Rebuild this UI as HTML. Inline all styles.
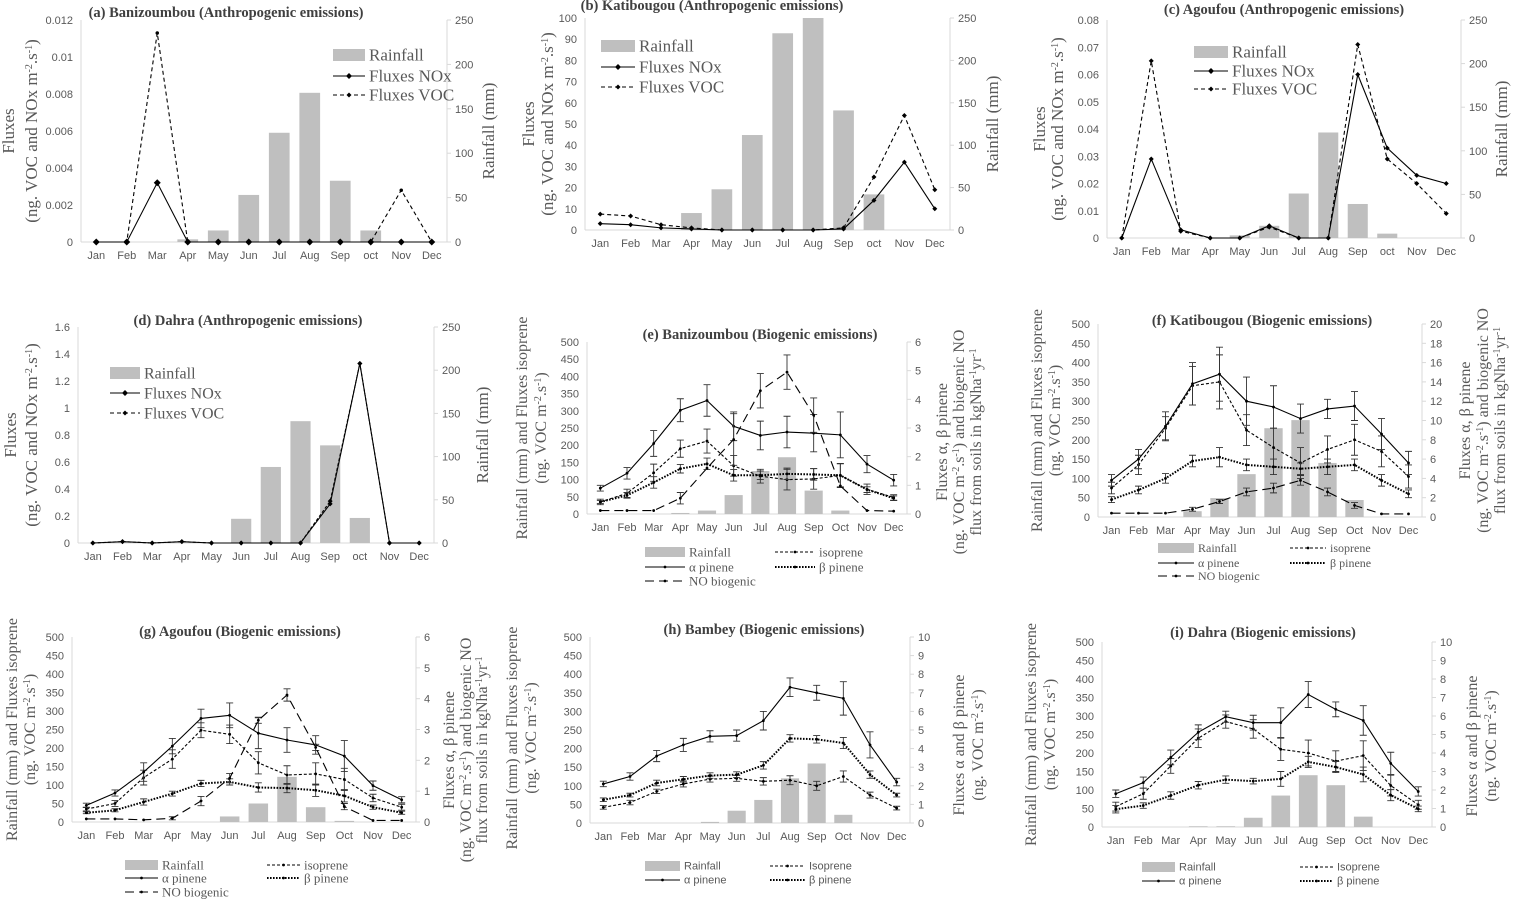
<!DOCTYPE html>
<html><head><meta charset="utf-8"><style>
html,body{margin:0;padding:0;background:#fff}
svg{display:block}
</style></head><body>
<svg id="fig" width="1514" height="899" viewBox="0 0 1514 899" xmlns="http://www.w3.org/2000/svg"></svg>
<script>
const months = ["Jan","Feb","Mar","Apr","May","Jun","Jul","Aug","Sep","oct","Nov","Dec"];
const monthsB = ["Jan","Feb","Mar","Apr","May","Jun","Jul","Aug","Sep","Oct","Nov","Dec"];
// (a) Banizoumbou anthropogenic
const rainA = [0,0,0,3,13,53,123,168,69,13,0,0];
const noxA = [0,0,0.0032,0,0,0,0,0,0,0,0,0];
const vocA = [0,0,0.0113,0,0,0,0,0,0,0,0.0028,0];
// (b) Katibougou anthropogenic
const rainB = [0,0,0,20,48,112,232,250,141,42,0,0];
const noxB = [3,2.5,1,0.5,0,0,0,0,0.5,14,32,10];
const vocB = [7.5,6.6,2.5,1,0,0,0,0,1,25,54,19];
// (c) Agoufou anthropogenic
const rainC = [0,0,0,0,3,14,51,121,39,5,0,0];
const noxC = [0,0.029,0.003,0,0,0.0045,0,0,0.060,0.033,0.023,0.020];
const vocC = [0,0.065,0.0025,0,0,0.004,0,0,0.071,0.029,0.020,0.009];
// (d) Dahra anthropogenic
const rainD = [0,0,0,0,0,28,88,141,113,29,0,0];
const noxD = [0,0.01,0,0.01,0,0,0,0,0.29,1.33,0,0];
const vocD = [0,0.01,0,0.01,0,0,0,0,0.31,1.33,0,0];
// (e) Banizoumbou biogenic
const rainE = [0,0,0,3,10,55,125,165,68,10,0,0];
const isoE = [35,60,120,190,212,140,110,100,102,112,72,48];
const isoEerr = [8,12,25,25,35,30,20,30,30,35,15,8];
const alphaE = [0.9,1.42,2.46,3.62,3.96,3.06,2.74,2.86,2.82,2.76,1.74,1.18];
const alphaEerr = [0.1,0.2,0.45,0.4,0.55,0.5,0.5,0.55,0.65,0.8,0.3,0.2];
const betaE = [0.42,0.65,1.1,1.58,1.75,1.35,1.35,1.4,1.38,1.35,0.85,0.55];
const betaEerr = [0.05,0.1,0.2,0.15,0.2,0.2,0.15,0.2,0.2,0.4,0.1,0.08];
const noE = [0.12,0.12,0.12,0.55,1.6,2.6,4.3,4.95,3.45,0.98,0.12,0.1];
const noEerr = [0,0,0,0.2,0,0.9,0.6,0.6,0.6,0,0,0];
// (f) Katibougou biogenic
const rainF = [0,0,0,15,49,111,230,251,140,44,0,0];
const isoF = [75,135,230,340,350,225,180,140,175,200,170,105];
const isoFerr = [15,25,30,50,70,40,50,40,35,40,40,30];
const alphaF = [3.8,6,9.4,13.8,14.8,12,11.4,10.2,11.2,11.5,8.6,5.6];
const alphaFerr = [0.6,1,1.5,2.2,2.8,2.5,2.2,1.5,1,1.5,1.6,1.2];
const betaF = [1.8,2.8,4,5.8,6.2,5.4,5.2,5,5.2,5.4,3.8,2.4];
const betaFerr = [0.3,0.4,0.5,0.6,1,0.6,0.8,0.6,0.8,0.6,0.6,0.4];
const noF = [0.4,0.4,0.4,0.8,1.6,2.6,3,3.8,2.6,1.2,0.32,0.32];
const noFerr = [0,0,0,0.2,0.2,0.4,0.5,0.5,0.4,0.3,0,0];
// (g) Agoufou biogenic
const rainG = [0,0,0,0,0,15,50,122,40,3,0,0];
const isoG = [35,50,120,170,248,237,160,127,130,115,65,40];
const isoGerr = [5,8,20,25,20,25,30,25,30,30,10,8];
const alphaG = [0.54,0.94,1.62,2.46,3.36,3.46,2.88,2.66,2.5,2.14,1.18,0.72];
const alphaGerr = [0.07,0.1,0.3,0.25,0.3,0.4,0.5,0.4,0.3,0.5,0.15,0.1];
const betaG = [0.3,0.38,0.65,0.92,1.25,1.3,1.12,1.1,1.03,0.85,0.48,0.3];
const betaGerr = [0.03,0.05,0.1,0.08,0.1,0.1,0.15,0.15,0.2,0.2,0.07,0.05];
const noG = [0.1,0.1,0.07,0.12,0.68,1.42,3.3,4.12,2.42,0.5,0.05,0.05];
const noGerr = [0,0,0,0.05,0.15,0.15,0.1,0.2,0.1,0.1,0,0];
// (h) Bambey biogenic
const rainH = [0,0,0,0,3,33,62,120,160,22,0,0];
const isoH = [42,55,85,105,118,120,112,115,100,125,75,40];
const isoHerr = [5,6,6,8,8,8,10,12,12,15,8,5];
const alphaH = [2.1,2.5,3.6,4.2,4.66,4.7,5.5,7.3,7,6.7,4.2,2.2];
const alphaHerr = [0.15,0.2,0.3,0.35,0.3,0.3,0.5,0.5,0.4,0.9,0.7,0.2];
const betaH = [1.25,1.5,2.15,2.35,2.55,2.6,3.1,4.55,4.5,4.3,2.6,1.5];
const betaHerr = [0.1,0.1,0.15,0.15,0.15,0.15,0.2,0.2,0.2,0.3,0.2,0.1];
// (i) Dahra biogenic
const rainI = [0,0,0,2,2,25,85,140,113,28,0,0];
const isoI = [55,90,165,240,285,265,210,200,178,193,112,60];
const isoIerr = [12,15,20,25,18,25,30,35,28,40,28,12];
const alphaI = [1.8,2.4,3.76,5.12,5.96,5.64,5.64,7.16,6.36,5.76,3.44,1.92];
const alphaIerr = [0.2,0.3,0.4,0.4,0.3,0.4,0.8,0.7,0.4,0.8,0.6,0.25];
const betaI = [0.96,1.16,1.7,2.26,2.56,2.48,2.6,3.52,3.24,2.84,1.72,0.98];
const betaIerr = [0.2,0.15,0.2,0.2,0.2,0.15,0.4,0.3,0.3,0.4,0.3,0.15];

const NS="http://www.w3.org/2000/svg";
const svg=document.getElementById('fig');
function mk(tag,attrs,parent){const e=document.createElementNS(NS,tag);for(const k in attrs)e.setAttribute(k,attrs[k]);(parent||svg).appendChild(e);return e;}
function fmt(v){return String(parseFloat(v.toFixed(4)));}
const GRAY="#595959";
function txt(x,y,s,opts,parent){const o=Object.assign({x:x,y:y,'font-family':'"Liberation Sans",sans-serif','font-size':11,fill:GRAY},opts||{});const t=mk('text',o,parent);t.innerHTML=s;return t;}
function dash(style){return {solid:"",dash:"4,3",dot:"1.6,1.4",long:"9,5",fine:"3,2"}[style];}

function panel(c){
  const g=mk('g',{});
  
  
  const step=(c.x1-c.x0)/12;
  const xc=i=>c.x0+step*(i+0.5);
  const yL=v=>c.zero-v/c.maxL*(c.zero-c.top);
  const yR=v=>c.zero-v/c.maxR*(c.zero-c.top);
  const ax=mk('g',{},g);
  
  
  mk('line',{x1:c.x0,y1:c.zero,x2:c.x1,y2:c.zero,stroke:'#d9d9d9','stroke-width':1},ax);
  mk('line',{x1:c.x0,y1:c.top,x2:c.x0,y2:c.zero,stroke:'#d9d9d9','stroke-width':1},ax);
  mk('line',{x1:c.x1,y1:c.top,x2:c.x1,y2:c.zero,stroke:'#d9d9d9','stroke-width':1},ax);
  const lt=mk('g',{},g);
  
  
  for(let v=0;v<=c.maxL+1e-9;v+=c.stepL){txt(c.x0-8,yL(v)+4,fmt(v),{'text-anchor':'end','font-size':c.tfs||11},lt);}
  const rt=mk('g',{},g);
  
  
  for(let v=0;v<=c.maxR+1e-9;v+=c.stepR){
    mk('line',{x1:c.x1,y1:yR(v),x2:c.x1+4,y2:yR(v),stroke:'#d9d9d9'},rt);
    txt(c.x1+8,yR(v)+4,fmt(v),{'font-size':c.tfs||11},rt);
  }
  const mt=mk('g',{},g);
  
  
  c.months.forEach((m,i)=>txt(xc(i),c.zero+17,m,{'text-anchor':'middle','font-size':c.tfs||11},mt));
  const bs=mk('g',{},g);
  
  
  const yB=c.rainAxis==='R'?yR:yL;
  c.rain.forEach((v,i)=>{
    if(v<=0)return;
    const r=mk('rect',{x:xc(i)-step*0.34,y:yB(v),width:step*0.68,height:c.zero-yB(v),fill:'#bfbfbf'},bs);
    
    
  });
  c.series.forEach(s=>{
    const sg=mk('g',{},g);
    
    
    const yf=s.axis==='R'?yR:yL;
    if(s.err){
      s.data.forEach((v,i)=>{const e=s.err[i];if(!e)return;
        const a=yf(v+e),b=yf(Math.max(0,v-e));
        mk('path',{d:`M${xc(i)},${a}V${b}M${xc(i)-3.5},${a}h7M${xc(i)-3.5},${b}h7`,stroke:'#333','stroke-width':0.9,fill:'none'},sg);});
    }
    const pts=s.data.map((v,i)=>xc(i)+','+yf(v)).join(' ');
    mk('polyline',{points:pts,fill:'none',stroke:'#000','stroke-width':s.w||1.1,'stroke-dasharray':dash(s.style)},sg);
    s.data.forEach((v,i)=>{
      const x=xc(i),y=yf(v),r=s.mr||2;
      if(s.marker==='diamond')mk('path',{d:`M${x},${y-r}L${x+r},${y}L${x},${y+r}L${x-r},${y}Z`,fill:'#000'},sg);
      else mk('circle',{cx:x,cy:y,r:r*0.7,fill:'#000'},sg);
    });
  });
  const tt=txt(c.tx,c.ty,c.title,{'text-anchor':'middle','font-family':'"Liberation Serif",serif','font-size':c.titleSize||14.5,'font-weight':'bold',fill:'#404040'},g);
  
  
  const cy=(c.top+c.zero)/2;
  const afs=c.afs||15;
  c.leftT.forEach((s,k)=>{const t=txt(0,0,s,{'text-anchor':'middle','font-family':'"Liberation Serif",serif','font-size':afs,transform:`translate(${c.leftX[k]},${c.leftY||cy}) rotate(-90)`},g);
    
    });
  c.rightT.forEach((s,k)=>{const t=txt(0,0,s,{'text-anchor':'middle','font-family':'"Liberation Serif",serif','font-size':afs,transform:`translate(${c.rightX[k]},${c.rightY||cy}) rotate(-90)`},g);
    
    });
  const lg=mk('g',{},g);
  
  
  const lf=c.legFont||'"Liberation Serif",serif', lfs=c.legSize||15;
  c.legend.forEach(L=>{
    const it=mk('g',{},lg);
    
    
    if(L.type==='bar')mk('rect',{x:L.x,y:L.y-(L.h||10)/2,width:L.w,height:L.h||10,fill:'#bfbfbf'},it);
    else{
      mk('line',{x1:L.x,y1:L.y,x2:L.x+L.w,y2:L.y,stroke:'#000','stroke-width':L.sw||1.1,'stroke-dasharray':dash(L.style)},it);
      const x=L.x+L.w/2,r=L.mr||2;
      if(L.marker==='diamond')mk('path',{d:`M${x},${L.y-r}L${x+r},${L.y}L${x},${L.y+r}L${x-r},${L.y}Z`,fill:'#000'},it);
      else mk('circle',{cx:x,cy:L.y,r:r*0.7,fill:'#000'},it);
    }
    txt(L.x+L.w+4,L.y+lfs*0.33,L.label,{'font-family':lf,'font-size':lfs},it);
  });
}
const SUP=(s)=>`<tspan baseline-shift="super" font-size="10">${s}</tspan>`;
const fluxT=`(ng. VOC and NOx m${SUP('-2')}.s${SUP('-1')})`;
function anthLeg(x,y1,y2,y3,w){return [
 {type:'bar',x:x,y:y1,w:w,h:12,label:'Rainfall'},
 {style:'solid',marker:'diamond',mr:3,x:x,y:y2,w:w,label:'Fluxes NOx'},
 {style:'dash',marker:'diamond',mr:2.5,x:x,y:y3,w:w,label:'Fluxes VOC'}];}

panel({name:'panel-a-banizoumbou-anthropogenic',x0:81,x1:447,zero:242,top:20,maxL:0.012,stepL:0.002,maxR:250,stepR:50,rainAxis:'R',rain:rainA,months:months,
 series:[{name:'line-nox',data:noxA,axis:'L',style:'solid',marker:'diamond',mr:3.5},{name:'line-voc',data:vocA,axis:'L',style:'dash',marker:'dot',mr:2.5}],
 title:'(a) Banizoumbou (Anthropogenic emissions)',tx:226,ty:17,afs:17,leftT:['Fluxes',fluxT],leftX:[14,37],rightT:['Rainfall (mm)'],rightX:[494],
 legend:anthLeg(333,55,76,95,32),legSize:17});
panel({name:'panel-b-katibougou-anthropogenic',x0:585,x1:950,zero:230,top:18,maxL:100,stepL:10,maxR:250,stepR:50,rainAxis:'R',rain:rainB,months:months,
 series:[{name:'line-nox',data:noxB,axis:'L',style:'solid',marker:'diamond',mr:2.5},{name:'line-voc',data:vocB,axis:'L',style:'dash',marker:'diamond',mr:2.5}],
 title:'(b) Katibougou (Anthropogenic emissions)',tx:712,ty:10,afs:17,leftT:['Fluxes',fluxT],leftX:[534,553],rightT:['Rainfall (mm)'],rightX:[998],
 legend:anthLeg(601,46,67,87,34),legSize:17});
panel({name:'panel-c-agoufou-anthropogenic',x0:1107,x1:1461,zero:238,top:20,maxL:0.08,stepL:0.01,maxR:250,stepR:50,rainAxis:'R',rain:rainC,months:months,
 series:[{name:'line-nox',data:noxC,axis:'L',style:'solid',marker:'diamond',mr:2.5},{name:'line-voc',data:vocC,axis:'L',style:'dash',marker:'diamond',mr:2.5}],
 title:'(c) Agoufou (Anthropogenic emissions)',tx:1284,ty:14,afs:17,leftT:['Fluxes',fluxT],leftX:[1045,1063],rightT:['Rainfall (mm)'],rightX:[1507],
 legend:anthLeg(1194,52,71,89,34),legSize:17});
panel({name:'panel-d-dahra-anthropogenic',x0:78,x1:434,zero:543,top:327,maxL:1.6,stepL:0.2,maxR:250,stepR:50,rainAxis:'R',rain:rainD,months:monthsB.slice(0,9).concat(['oct','Nov','Dec']),
 series:[{name:'line-nox',data:noxD,axis:'L',style:'solid',marker:'diamond',mr:2.5},{name:'line-voc',data:vocD,axis:'L',style:'fine',marker:'diamond',mr:2.5}],
 title:'(d) Dahra (Anthropogenic emissions)',tx:248,ty:325,afs:17,leftT:['Fluxes',fluxT],leftX:[16,37],rightT:['Rainfall (mm)'],rightX:[488],
 legend:anthLeg(110,373,393,413,30),legSize:16});

const vocT=`(ng. VOC m${SUP('-2')}.s${SUP('-1')})`;
const rainT='Rainfall (mm) and Fluxes isoprene';
const rightNO=['Fluxes α, β pinene',`(ng. VOC m${SUP('-2')}.s${SUP('-1')}) and biogenic NO`,`flux from soils in kgNha${SUP('-1')}yr${SUP('-1')}`];
function bioLeg(x1,x2,y1,y2,y3,w,withNO,isoLabel,betaLabel){const a=[
 {type:'bar',x:x1,y:y1,w:w,label:'Rainfall'},
 {style:'fine',marker:'dot',x:x2,y:y1,w:w,label:isoLabel},
 {style:'solid',marker:'dot',x:x1,y:y2,w:w,label:'α pinene'},
 {style:'dot',sw:2,marker:'dot',x:x2,y:y2,w:w,label:betaLabel}];
 if(withNO)a.push({style:'long',marker:'dot',x:x1,y:y3,w:w,label:'NO biogenic'});return a;}
function bioSeries(iso,isoE,al,alE,be,beE,no,noE){const s=[
 {name:'line-isoprene',data:iso,err:isoE,axis:'L',style:'fine'},
 {name:'line-alpha-pinene',data:al,err:alE,axis:'R',style:'solid'},
 {name:'line-beta-pinene',data:be,err:beE,axis:'R',style:'dot',w:2}];
 if(no)s.push({name:'line-no-biogenic',data:no,err:noE,axis:'R',style:'long'});return s;}

panel({name:'panel-e-banizoumbou-biogenic',x0:587,x1:907,zero:514,top:342,maxL:500,stepL:50,maxR:6,stepR:1,rainAxis:'L',rain:rainE,months:monthsB,
 series:bioSeries(isoE,isoEerr,alphaE,alphaEerr,betaE,betaEerr,noE,noEerr),
 title:'(e) Banizoumbou (Biogenic emissions)',tx:760,ty:339,afs:16,leftT:[rainT,vocT],leftX:[527,546],rightT:rightNO,rightX:[947,964,981],rightY:442,
 legend:bioLeg(645,775,552,567,581,40,true,'isoprene','β pinene'),legSize:13});
panel({name:'panel-f-katibougou-biogenic',x0:1098,x1:1422,zero:517,top:324,maxL:500,stepL:50,maxR:20,stepR:2,rainAxis:'L',rain:rainF,months:monthsB,
 series:bioSeries(isoF,isoFerr,alphaF,alphaFerr,betaF,betaFerr,noF,noFerr),
 title:'(f) Katibougou (Biogenic emissions)',tx:1262,ty:325,afs:16,leftT:[rainT,vocT],leftX:[1042,1060],rightT:rightNO,rightX:[1470,1488,1505],
 legend:bioLeg(1158,1290,548,563,576,36,true,'isoprene','β pinene'),legSize:12});
panel({name:'panel-g-agoufou-biogenic',x0:72,x1:416,zero:822,top:637,maxL:500,stepL:50,maxR:6,stepR:1,rainAxis:'L',rain:rainG,months:monthsB,
 series:bioSeries(isoG,isoGerr,alphaG,alphaGerr,betaG,betaGerr,noG,noGerr),
 title:'(g) Agoufou (Biogenic emissions)',tx:240,ty:636,afs:16,leftT:[rainT,vocT],leftX:[17,35],rightT:rightNO,rightX:[454,471,487],rightY:750,
 legend:bioLeg(125,267,865,878,892,33,true,'isoprene','β pinene'),legSize:13});
panel({name:'panel-h-bambey-biogenic',x0:590,x1:910,zero:823,top:637,maxL:500,stepL:50,maxR:10,stepR:1,rainAxis:'L',rain:rainH,months:monthsB,
 series:bioSeries(isoH,isoHerr,alphaH,alphaHerr,betaH,betaHerr),
 title:'(h) Bambey (Biogenic emissions)',tx:764,ty:634,afs:16,leftT:[rainT,vocT],leftX:[517,536],leftY:738,rightT:['Fluxes α and β pinene',vocT],rightX:[964,983],rightY:745,
 legend:bioLeg(645,770,866,880,0,35,false,'Isoprene','β  pinene'),legFont:'"Liberation Sans",sans-serif',legSize:11});
panel({name:'panel-i-dahra-biogenic',x0:1102,x1:1432,zero:827,top:642,maxL:500,stepL:50,maxR:10,stepR:1,rainAxis:'L',rain:rainI,months:monthsB,
 series:bioSeries(isoI,isoIerr,alphaI,alphaIerr,betaI,betaIerr),
 title:'(i) Dahra (Biogenic emissions)',tx:1263,ty:637,afs:16,leftT:[rainT,vocT],leftX:[1036,1055],rightT:['Fluxes α and β pinene',vocT],rightX:[1477,1496],rightY:746,
 legend:bioLeg(1142,1300,867,881,0,33,false,'Isoprene','β  pinene'),legFont:'"Liberation Sans",sans-serif',legSize:11});
</script>
</body></html>
